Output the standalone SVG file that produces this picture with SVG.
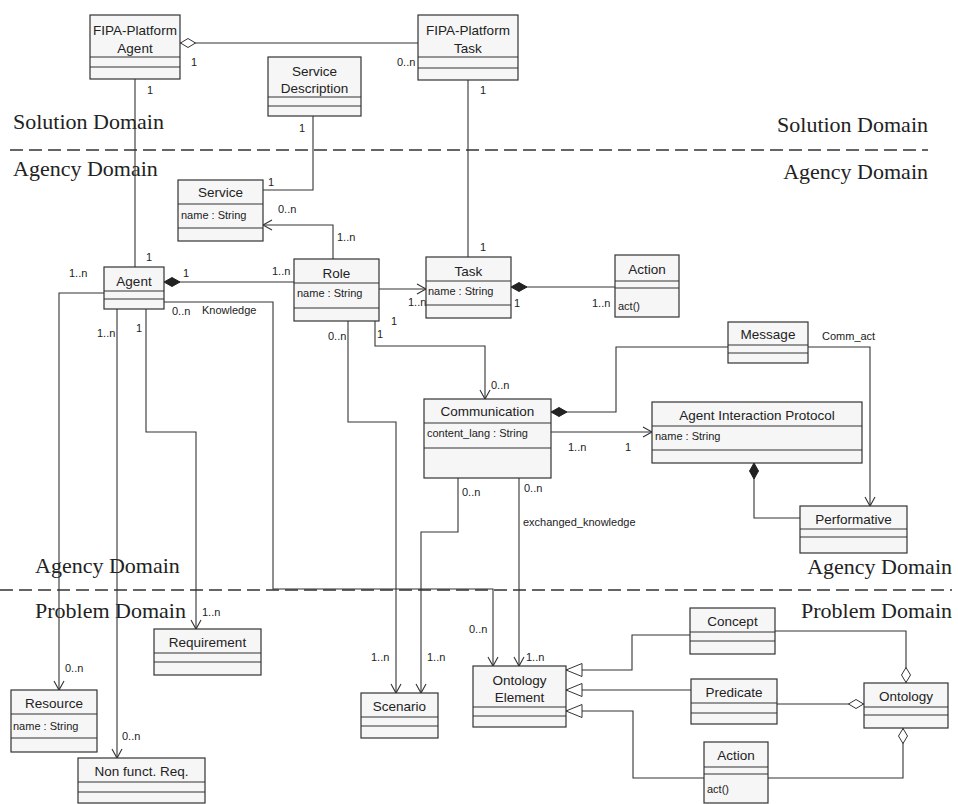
<svg xmlns="http://www.w3.org/2000/svg" width="958" height="804" viewBox="0 0 958 804">
<style>
.box{fill:#f6f6f6;stroke:#333;stroke-width:1.2}
.sep{stroke:#333;stroke-width:1.2}
.nm{font-family:"Liberation Sans",Arial,sans-serif;font-size:13.5px;fill:#222;text-anchor:middle}
.at{font-family:"Liberation Sans",Arial,sans-serif;font-size:11px;fill:#222}
.lb{font-family:"Liberation Sans",Arial,sans-serif;font-size:11px;fill:#222}
.dom{font-family:"Liberation Serif","Times New Roman",serif;font-size:22px;fill:#222}
.ln{fill:none;stroke:#333;stroke-width:1.1}
.dash{fill:none;stroke:#333;stroke-width:1.5;stroke-dasharray:13 6}
.arr{marker-end:url(#open)}
.comp{marker-start:url(#dfill)}
.agg{marker-start:url(#dhollow)}
.gen{marker-end:url(#tri)}
</style>
<defs>
<marker id="open" markerUnits="userSpaceOnUse" markerWidth="12" markerHeight="12" refX="10" refY="6" orient="auto"><path d="M1,1 L10,6 L1,11" fill="none" stroke="#333" stroke-width="1.1"/></marker>
<marker id="dfill" markerUnits="userSpaceOnUse" markerWidth="18" markerHeight="10" refX="0" refY="5" orient="auto"><path d="M0,5 L8,0.5 L16,5 L8,9.5 Z" fill="#222" stroke="#222" stroke-width="1"/></marker>
<marker id="dhollow" markerUnits="userSpaceOnUse" markerWidth="18" markerHeight="10" refX="0" refY="5" orient="auto"><path d="M0.5,5 L8,0.5 L15.5,5 L8,9.5 Z" fill="#fff" stroke="#333" stroke-width="1"/></marker>
<marker id="tri" markerUnits="userSpaceOnUse" markerWidth="18" markerHeight="15" refX="17" refY="7" orient="auto"><path d="M1,0.5 L17,7 L1,13.5 Z" fill="#fff" stroke="#333" stroke-width="1"/></marker>
</defs>
<rect width="958" height="804" fill="#fff"/>

<g id="domains">
<line class="dash" x1="10" y1="150" x2="928" y2="150"/>
<line class="dash" x1="0" y1="590" x2="952" y2="590"/>
<text class="dom" x="13" y="129">Solution Domain</text>
<text class="dom" x="928" y="132" text-anchor="end">Solution Domain</text>
<text class="dom" x="13" y="176">Agency Domain</text>
<text class="dom" x="928" y="179" text-anchor="end">Agency Domain</text>
<text class="dom" x="35" y="573">Agency Domain</text>
<text class="dom" x="952" y="574" text-anchor="end">Agency Domain</text>
<text class="dom" x="35" y="618">Problem Domain</text>
<text class="dom" x="952" y="618" text-anchor="end">Problem Domain</text>
</g>

<g id="connectors">
<path class="ln agg" d="M180,43 H418"/>
<path class="ln" d="M135,79 V267"/>
<path class="ln" d="M468,80 V257"/>
<path class="ln" d="M313,116 V190 H263"/>
<path class="ln arr" d="M333,259 V225 H263"/>
<path class="ln comp" d="M164,282 H294"/>
<path class="ln arr" d="M379,289 H426"/>
<path class="ln comp" d="M511,287 H615"/>
<path class="ln arr" d="M375,321 V346 H485 V399"/>
<path class="ln arr" d="M348,321 V422 H396 V693"/>
<path class="ln comp" d="M551,412 H616 V347 H728"/>
<path class="ln arr" d="M551,432 H652"/>
<path class="ln comp" d="M754,463 V518 H800"/>
<path class="ln arr" d="M808,347 H870 V506"/>
<path class="ln arr" d="M458,478 V532 H421 V693"/>
<path class="ln arr" d="M519,478 V666"/>
<path class="ln arr" d="M164,302 H273 V589 H493 V666"/>
<path class="ln arr" d="M104,293 H59 V690"/>
<path class="ln arr" d="M117,309 V758"/>
<path class="ln arr" d="M146,309 V432 H196 V629"/>
<path class="ln gen" d="M690,635 H632 V670 H566"/>
<path class="ln gen" d="M691,690 H566"/>
<path class="ln gen" d="M704,778 H633 V711 H566"/>
<path class="ln agg" d="M906,683 V631 H775"/>
<path class="ln agg" d="M864,704 H777"/>
<path class="ln agg" d="M903,728 V778 H768"/>

<text class="lb" x="191" y="66">1</text>
<text class="lb" x="397" y="66">0..n</text>
<text class="lb" x="147" y="94">1</text>
<text class="lb" x="146" y="261">1</text>
<text class="lb" x="480" y="94">1</text>
<text class="lb" x="480" y="251">1</text>
<text class="lb" x="299" y="132">1</text>
<text class="lb" x="268" y="186">1</text>
<text class="lb" x="278" y="213">0..n</text>
<text class="lb" x="337" y="241">1..n</text>
<text class="lb" x="183" y="277">1</text>
<text class="lb" x="272" y="275">1..n</text>
<text class="lb" x="408" y="306">1..n</text>
<text class="lb" x="514" y="307">1</text>
<text class="lb" x="592" y="307">1..n</text>
<text class="lb" x="391" y="325">1</text>
<text class="lb" x="377" y="338">1</text>
<text class="lb" x="328" y="340">0..n</text>
<text class="lb" x="491" y="389">0..n</text>
<text class="lb" x="822" y="340">Comm_act</text>
<text class="lb" x="568" y="451">1..n</text>
<text class="lb" x="625" y="451">1</text>
<text class="lb" x="462" y="496">0..n</text>
<text class="lb" x="524" y="492">0..n</text>
<text class="lb" x="523" y="526">exchanged_knowledge</text>
<text class="lb" x="172" y="315">0..n</text>
<text class="lb" x="202" y="314">Knowledge</text>
<text class="lb" x="69" y="277">1..n</text>
<text class="lb" x="97" y="337">1..n</text>
<text class="lb" x="136" y="332">1</text>
<text class="lb" x="202" y="616">1..n</text>
<text class="lb" x="65" y="672">0..n</text>
<text class="lb" x="122" y="740">0..n</text>
<text class="lb" x="371" y="661">1..n</text>
<text class="lb" x="427" y="661">1..n</text>
<text class="lb" x="469" y="633">0..n</text>
<text class="lb" x="526" y="661">1..n</text>
</g>

<g id="fipa-agent">
<rect class="box" x="90" y="15" width="90" height="64"/>
<line class="sep" x1="90" y1="57" x2="180" y2="57"/><line class="sep" x1="90" y1="67" x2="180" y2="67"/>
<text class="nm" x="135" y="35">FIPA-Platform</text><text class="nm" x="135" y="53">Agent</text>
</g>
<g id="fipa-task">
<rect class="box" x="418" y="15" width="100" height="65"/>
<line class="sep" x1="418" y1="57" x2="518" y2="57"/><line class="sep" x1="418" y1="68" x2="518" y2="68"/>
<text class="nm" x="468" y="35">FIPA-Platform</text><text class="nm" x="468" y="53">Task</text>
</g>
<g id="service-description">
<rect class="box" x="268" y="57" width="93" height="59"/>
<line class="sep" x1="268" y1="97" x2="361" y2="97"/><line class="sep" x1="268" y1="106" x2="361" y2="106"/>
<text class="nm" x="314.5" y="76">Service</text><text class="nm" x="314.5" y="93">Description</text>
</g>
<g id="service">
<rect class="box" x="178" y="180" width="85" height="61"/>
<line class="sep" x1="178" y1="204" x2="263" y2="204"/><line class="sep" x1="178" y1="228" x2="263" y2="228"/>
<text class="nm" x="220.5" y="197">Service</text>
<text class="at" x="181" y="219">name : String</text>
</g>
<g id="agent">
<rect class="box" x="104" y="267" width="60" height="42"/>
<line class="sep" x1="104" y1="291" x2="164" y2="291"/><line class="sep" x1="104" y1="299" x2="164" y2="299"/>
<text class="nm" x="134" y="286">Agent</text>
</g>
<g id="role">
<rect class="box" x="294" y="259" width="85" height="62"/>
<line class="sep" x1="294" y1="283" x2="379" y2="283"/><line class="sep" x1="294" y1="308" x2="379" y2="308"/>
<text class="nm" x="336.5" y="278">Role</text>
<text class="at" x="297" y="297">name : String</text>
</g>
<g id="task">
<rect class="box" x="426" y="257" width="85" height="61"/>
<line class="sep" x1="426" y1="281" x2="511" y2="281"/><line class="sep" x1="426" y1="305" x2="511" y2="305"/>
<text class="nm" x="468.5" y="276">Task</text>
<text class="at" x="428" y="295">name : String</text>
</g>
<g id="action">
<rect class="box" x="615" y="255" width="64" height="62"/>
<line class="sep" x1="615" y1="281" x2="679" y2="281"/><line class="sep" x1="615" y1="288" x2="679" y2="288"/>
<text class="nm" x="647" y="274">Action</text>
<text class="at" x="618" y="310">act()</text>
</g>
<g id="message">
<rect class="box" x="728" y="322" width="80" height="41"/>
<line class="sep" x1="728" y1="345" x2="808" y2="345"/><line class="sep" x1="728" y1="353" x2="808" y2="353"/>
<text class="nm" x="768" y="339">Message</text>
</g>
<g id="communication">
<rect class="box" x="424" y="399" width="127" height="79"/>
<line class="sep" x1="424" y1="423" x2="551" y2="423"/><line class="sep" x1="424" y1="448" x2="551" y2="448"/>
<text class="nm" x="487.5" y="416">Communication</text>
<text class="at" x="427" y="437">content_lang : String</text>
</g>
<g id="agent-interaction-protocol">
<rect class="box" x="652" y="402" width="210" height="61"/>
<line class="sep" x1="652" y1="426" x2="862" y2="426"/><line class="sep" x1="652" y1="450" x2="862" y2="450"/>
<text class="nm" x="757" y="420">Agent Interaction Protocol</text>
<text class="at" x="655" y="440">name : String</text>
</g>
<g id="performative">
<rect class="box" x="800" y="506" width="107" height="47"/>
<line class="sep" x1="800" y1="529" x2="907" y2="529"/><line class="sep" x1="800" y1="537" x2="907" y2="537"/>
<text class="nm" x="853.5" y="524">Performative</text>
</g>
<g id="requirement">
<rect class="box" x="154" y="629" width="107" height="46"/>
<line class="sep" x1="154" y1="653" x2="261" y2="653"/><line class="sep" x1="154" y1="662" x2="261" y2="662"/>
<text class="nm" x="207.5" y="647">Requirement</text>
</g>
<g id="resource">
<rect class="box" x="11" y="690" width="86" height="62"/>
<line class="sep" x1="11" y1="714" x2="97" y2="714"/><line class="sep" x1="11" y1="738" x2="97" y2="738"/>
<text class="nm" x="54" y="708">Resource</text>
<text class="at" x="13" y="730">name : String</text>
</g>
<g id="non-funct-req">
<rect class="box" x="78" y="758" width="127" height="45"/>
<line class="sep" x1="78" y1="782" x2="205" y2="782"/><line class="sep" x1="78" y1="792" x2="205" y2="792"/>
<text class="nm" x="141.5" y="776">Non funct. Req.</text>
</g>
<g id="scenario">
<rect class="box" x="361" y="693" width="77" height="45"/>
<line class="sep" x1="361" y1="717" x2="438" y2="717"/><line class="sep" x1="361" y1="726" x2="438" y2="726"/>
<text class="nm" x="399.5" y="711">Scenario</text>
</g>
<g id="ontology-element">
<rect class="box" x="473" y="666" width="93" height="61"/>
<line class="sep" x1="473" y1="707" x2="566" y2="707"/><line class="sep" x1="473" y1="716" x2="566" y2="716"/>
<text class="nm" x="519.5" y="685">Ontology</text><text class="nm" x="519.5" y="702">Element</text>
</g>
<g id="concept">
<rect class="box" x="690" y="608" width="85" height="46"/>
<line class="sep" x1="690" y1="632" x2="775" y2="632"/><line class="sep" x1="690" y1="641" x2="775" y2="641"/>
<text class="nm" x="732.5" y="626">Concept</text>
</g>
<g id="predicate">
<rect class="box" x="691" y="679" width="86" height="45"/>
<line class="sep" x1="691" y1="703" x2="777" y2="703"/><line class="sep" x1="691" y1="713" x2="777" y2="713"/>
<text class="nm" x="734" y="697">Predicate</text>
</g>
<g id="ontology">
<rect class="box" x="864" y="683" width="84" height="45"/>
<line class="sep" x1="864" y1="707" x2="948" y2="707"/><line class="sep" x1="864" y1="715" x2="948" y2="715"/>
<text class="nm" x="906" y="701">Ontology</text>
</g>
<g id="action-2">
<rect class="box" x="704" y="742" width="64" height="61"/>
<line class="sep" x1="704" y1="767" x2="768" y2="767"/><line class="sep" x1="704" y1="774" x2="768" y2="774"/>
<text class="nm" x="736" y="760">Action</text>
<text class="at" x="707" y="793">act()</text>
</g>
</svg>
